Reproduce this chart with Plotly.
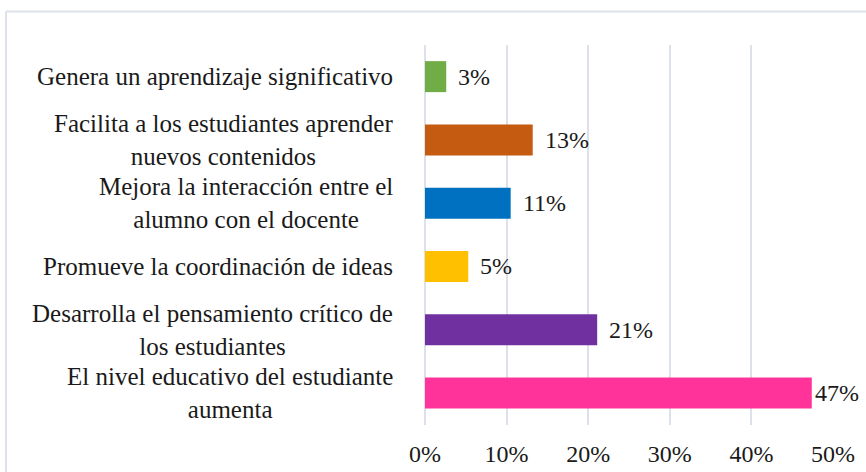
import plotly.graph_objects as go

# Datos (proporción de respuestas)
categorias = [
    "Genera un aprendizaje significativo",
    "Facilita a los estudiantes aprender<br>nuevos contenidos",
    "Mejora la interacción entre el<br>alumno con el docente",
    "Promueve la coordinación de ideas",
    "Desarrolla el pensamiento crítico de<br>los estudiantes",
    "El nivel educativo del estudiante<br>aumenta",
]
valores = [0.026, 0.132, 0.105, 0.053, 0.211, 0.474]
colores = ["#70AD47", "#C55A11", "#0070C0", "#FFC000", "#7030A0", "#FF3399"]
etiquetas = ["3%", "13%", "11%", "5%", "21%", "47%"]
ticks_x = [0, 0.1, 0.2, 0.3, 0.4, 0.5]

FUENTE = "Liberation Serif, Times New Roman, serif"
GRIS = "#dde2ea"
TEXTO = "#1a1a1a"

fig = go.Figure()
fig.add_trace(go.Bar(
    x=valores, y=categorias, orientation="h",
    marker=dict(color=colores, line=dict(width=0)),
    width=0.49, hoverinfo="skip",
))

# etiquetas de categoría (texto centrado, bloque alineado a la derecha)
for cat in categorias:
    fig.add_annotation(
        x=0, xref="paper", y=cat, yref="y", text=cat,
        xanchor="right", xshift=-30, align="center", showarrow=False,
        font=dict(family=FUENTE, size=25, color=TEXTO),
    )

# etiquetas de datos
for cat, v, t in zip(categorias, valores, etiquetas):
    fig.add_annotation(
        x=v, y=cat, text=t, xanchor="left", xshift=10 if v < 0.4 else 1,
        showarrow=False, font=dict(family=FUENTE, size=24, color=TEXTO),
    )

# marco del gráfico
fig.add_shape(type="line", xref="paper", yref="paper", x0=-1.027, x1=1.2,
              y0=1.088, y1=1.088, line=dict(color=GRIS, width=2))
fig.add_shape(type="line", xref="paper", yref="paper", x0=-1.027, x1=-1.027,
              y0=-0.2, y1=1.088, line=dict(color=GRIS, width=2))

fig.update_layout(
    width=866, height=472,
    margin=dict(l=425, r=33, t=45, b=47),
    paper_bgcolor="white", plot_bgcolor="white",
    showlegend=False,
    font=dict(family=FUENTE, size=24, color=TEXTO),
    xaxis=dict(range=[0, 0.5], tickvals=ticks_x, tickformat=".0%",
               showgrid=True, gridcolor=GRIS, gridwidth=1.5,
               zeroline=True, zerolinecolor=GRIS, zerolinewidth=1.5,
               showline=False, ticks="", automargin=False,
               ticklabelstandoff=12, fixedrange=True),
    yaxis=dict(categoryorder="array", categoryarray=categorias,
               autorange="reversed", showticklabels=False, automargin=False,
               showgrid=False, zeroline=False, showline=False,
               range=[len(categorias) - 0.5, -0.5], fixedrange=True),
)

fig.write_html("out.html", config={"displayModeBar": False},
               post_script="document.body.style.margin='0';")
